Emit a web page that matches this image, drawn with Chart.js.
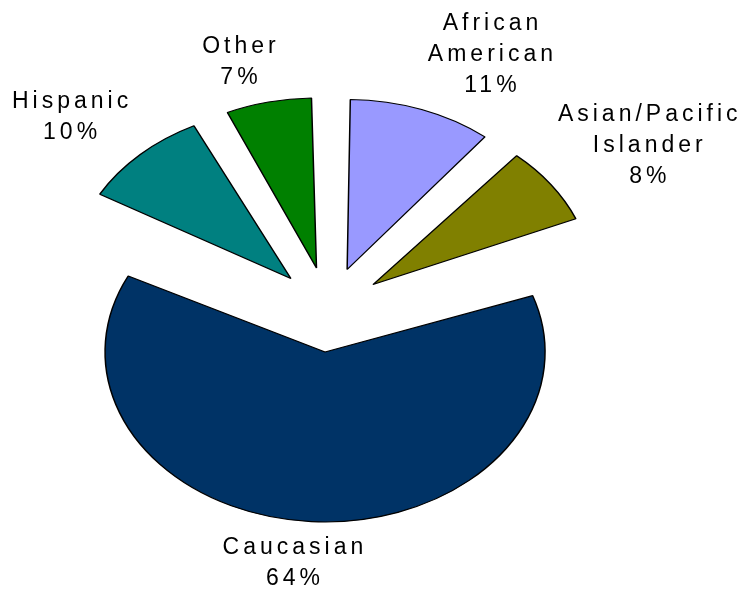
<!DOCTYPE html>
<html>
<head>
<meta charset="utf-8">
<script src="https://cdn.jsdelivr.net/npm/chart.js@4/dist/chart.umd.min.js"></script>
<style>
  html, body { margin: 0; padding: 0; background: #fff; }
  #wrap { width: 745px; height: 590px; }
</style>
</head>
<body>
<div id="wrap"><canvas id="pie" width="745" height="590"></canvas></div>
<script>
// data, clockwise from 12 o'clock
const categories = ['African American', 'Asian/Pacific Islander', 'Caucasian', 'Hispanic', 'Other'];
const shares = [11, 8, 64, 10, 7];
const labelLines = [['African', 'American'], ['Asian/Pacific', 'Islander'], ['Caucasian'], ['Hispanic'], ['Other']];
const sliceColors = ['#9999FF', '#808000', '#003366', '#008080', '#008000'];

// pie is tilted: squash it vertically around its centre
const squash = 0.773;
const pieRadius = 220;
const explode = 55;
const labelRadius = 360;
// small shifts so labels sit where the original put them
const labelNudge = [[40, 5], [28, -2], [-13, -26], [-12, 9], [-11, 23]];

const tiltPlugin = {
    id: 'tilt',
    beforeDatasetsDraw(chart) {
        const arcs = chart.getDatasetMeta(0).data;
        // chart.js grows an exploded arc by offset/4 * (1 - sin(angle)); undo that so every slice has the same radius
        arcs.forEach(arc => {
            const fix = 1 - Math.sin(Math.min(Math.PI, arc.circumference));
            arc.outerRadius = pieRadius - explode * fix;
        });
        const ctx = chart.ctx;
        ctx.save();
        ctx.translate(arcs[0].x, arcs[0].y);
        ctx.scale(1, squash);
        ctx.translate(-arcs[0].x, -arcs[0].y);
    },
    afterDatasetsDraw(chart) {
        const ctx = chart.ctx;
        ctx.restore();

        // data labels, outside end
        ctx.save();
        ctx.font = '23px "Liberation Sans", Arial, sans-serif';
        ctx.letterSpacing = '4px';
        ctx.fillStyle = '#000';
        ctx.textAlign = 'center';
        ctx.textBaseline = 'alphabetic';
        chart.getDatasetMeta(0).data.forEach((arc, i) => {
            const mid = (arc.startAngle + arc.endAngle) / 2;
            const px = arc.x + labelRadius * Math.cos(mid) + labelNudge[i][0];
            const py = arc.y + labelRadius * Math.sin(mid) * squash + labelNudge[i][1];
            const lines = labelLines[i].concat([shares[i] + '%']);
            const lh = 31;
            lines.forEach((t, k) => {
                const by = py - (lines.length - 1) * lh / 2 + k * lh + 8;
                ctx.fillText(t, px + 2, by);
            });
        });
        ctx.restore();
    }
};

// chart.js v4 moves an arc by offset/4
new Chart(document.getElementById('pie').getContext('2d'), {
    type: 'pie',
    data: {
        labels: categories,
        datasets: [{
            data: shares,
            backgroundColor: sliceColors,
            borderColor: '#000',
            borderWidth: 1.5,
            offset: explode * 4
        }]
    },
    options: {
        responsive: false,
        animation: false,
        radius: pieRadius - explode,
        layout: { padding: { left: 0, right: 88, top: 29, bottom: 0 } },
        plugins: { legend: { display: false }, tooltip: { enabled: false } }
    },
    plugins: [tiltPlugin]
});
</script>
</body>
</html>
